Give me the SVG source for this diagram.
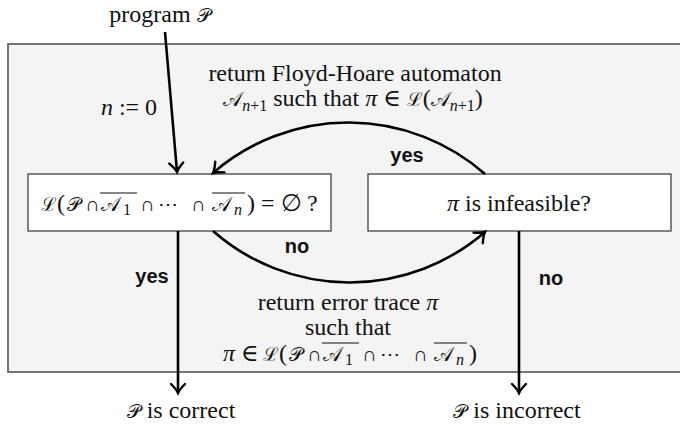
<svg xmlns="http://www.w3.org/2000/svg" width="680" height="425" viewBox="0 0 680 425">
<style>
.t{font-family:"Liberation Serif","DejaVu Serif","Noto Sans",serif;font-size:24px;fill:#111}
.i{font-style:italic}
.s{font-size:16px}
.sc{font-size:19px}
.sa{font-size:20px}
.op{font-size:20px}
.b{font-family:"Liberation Sans",Arial,sans-serif;font-weight:bold;font-size:20px;fill:#111}
.box{fill:#fff;stroke:#333;stroke-width:1.2}
.c{fill:none;stroke:#000;stroke-width:2.6}
.ol{stroke:#111;stroke-width:1.2}
</style>
<defs>
<marker id="ah" markerUnits="userSpaceOnUse" markerWidth="24" markerHeight="24" viewBox="-12 -12 24 24" refX="0" refY="0" orient="auto">
<path d="M-9,-7 Q-3.5,-1.5 0,0 Q-3.5,1.5 -9,7" fill="none" stroke="#000" stroke-width="2.4" stroke-linecap="round"/>
</marker>
</defs>
<rect x="8" y="44" width="680" height="328" fill="#f4f4f4" stroke="#555" stroke-width="1.6"/>
<g id="labels">
<text class="t" x="160" y="22" text-anchor="middle">program <tspan class="sc">𝒫</tspan></text>
<text class="t" x="129" y="115" text-anchor="middle"><tspan class="i">n</tspan> := 0</text>
<text class="t" x="355" y="81" text-anchor="middle">return Floyd-Hoare automaton</text>
<text class="t" x="353" y="106" text-anchor="middle"><tspan class="sa">𝒜</tspan><tspan class="s" dy="5"><tspan class="i">n</tspan>+1</tspan><tspan dy="-5"> such that </tspan><tspan class="i">π</tspan> ∈ <tspan class="sc">ℒ</tspan>(<tspan class="sa">𝒜</tspan><tspan class="s" dy="5"><tspan class="i">n</tspan>+1</tspan><tspan dy="-5">)</tspan></text>
<text class="t" x="348" y="310" text-anchor="middle">return error trace <tspan class="i">π</tspan></text>
<text class="t" x="348" y="335" text-anchor="middle">such that</text>
<text class="t" y="361"><tspan class="i" x="223">π</tspan><tspan x="241">∈</tspan><tspan class="sc" x="263">ℒ</tspan><tspan x="279">(</tspan><tspan class="sc" x="289">𝒫</tspan><tspan class="op" x="307">∩</tspan><tspan class="sa" x="323">𝒜</tspan><tspan class="s" x="345" dy="4">1</tspan><tspan class="op" x="362" dy="-4">∩</tspan><tspan class="op" x="380">⋯</tspan><tspan class="op" x="413">∩</tspan><tspan class="sa" x="434">𝒜</tspan><tspan class="s i" x="456" dy="4">n</tspan><tspan x="469" dy="-4">)</tspan></text>
<line class="ol" x1="322" y1="343" x2="359" y2="343"/>
<line class="ol" x1="434" y1="343" x2="467" y2="343"/>
<text class="t" x="181" y="418" text-anchor="middle"><tspan class="sc">𝒫</tspan> is correct</text>
<text class="t" x="517" y="418" text-anchor="middle"><tspan class="sc">𝒫</tspan> is incorrect</text>
<text class="b" x="407" y="162" text-anchor="middle">yes</text>
<text class="b" x="297" y="253" text-anchor="middle">no</text>
<text class="b" x="152" y="283" text-anchor="middle">yes</text>
<text class="b" x="551" y="285" text-anchor="middle">no</text>
</g>
<g id="node-empty">
<rect class="box" x="28" y="174" width="303" height="57"/>
<text class="t" y="211"><tspan class="sc" x="41">ℒ</tspan><tspan x="57">(</tspan><tspan class="sc" x="67">𝒫</tspan><tspan class="op" x="85">∩</tspan><tspan class="sa" x="101">𝒜</tspan><tspan class="s" x="123" dy="4">1</tspan><tspan class="op" x="140" dy="-4">∩</tspan><tspan class="op" x="158">⋯</tspan><tspan class="op" x="191">∩</tspan><tspan class="sa" x="212">𝒜</tspan><tspan class="s i" x="234" dy="4">n</tspan><tspan x="247" dy="-4">)</tspan><tspan x="261">=</tspan><tspan x="281">∅</tspan><tspan x="307">?</tspan></text>
<line class="ol" x1="100" y1="193" x2="137" y2="193"/>
<line class="ol" x1="212" y1="193" x2="245" y2="193"/>
</g>
<g id="node-infeasible">
<rect class="box" x="368" y="174" width="303" height="57"/>
<text class="t" x="519" y="211" text-anchor="middle"><tspan class="i">π</tspan> is infeasible?</text>
</g>
<g id="connectors">
<path class="c" d="M165,32 L177,172" marker-end="url(#ah)"/>
<path class="c" d="M485,174 A207,207 0 0 0 213,173" marker-end="url(#ah)"/>
<path class="c" d="M213,231 A207,207 0 0 0 485,232" marker-end="url(#ah)"/>
<path class="c" d="M178,231 L178,393" marker-end="url(#ah)"/>
<path class="c" d="M519,231 L519,393" marker-end="url(#ah)"/>
</g>
</svg>
